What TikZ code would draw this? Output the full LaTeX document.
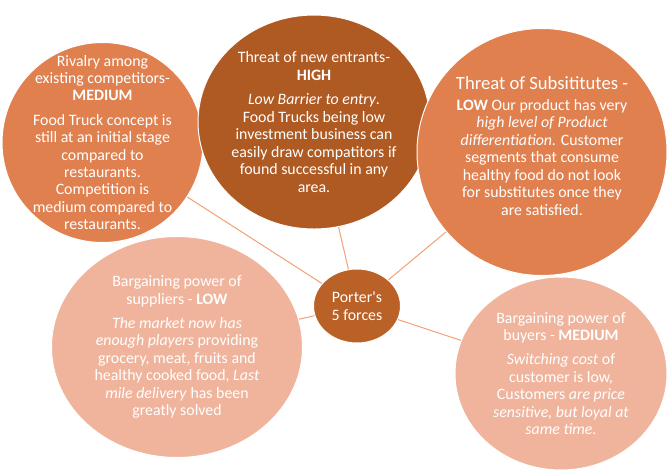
\documentclass[tikz,border=0pt]{standalone}
\usepackage{fontspec}
\setmainfont{Carlito}
\usetikzlibrary{shapes.geometric}
\definecolor{rivalorange}{RGB}{224,128,79}
\definecolor{entrantbrown}{RGB}{175,90,35}
\definecolor{powerpeach}{RGB}{240,180,157}
\definecolor{porterbrown}{RGB}{186,97,39}
\definecolor{linkorange}{RGB}{243,160,118}

\begin{document}
\begin{tikzpicture}[x=0.75pt,y=-0.75pt,thick,
    force/.style={ellipse,draw=white,line width=0.75pt,inner sep=0pt},
    txt/.style={text=white,align=center,inner sep=0pt,font=\fontsize{11.9}{13.1}\selectfont},
    link/.style={draw=linkorange,line width=0.75pt}]
    \useasboundingbox (0,0) rectangle (668,472);
    % the five forces
    \node [force, fill=rivalorange, minimum width=150.75pt, minimum height=150pt] (rival) at (102.5,142.5) {};
    \node [force, fill=entrantbrown, minimum width=174pt, minimum height=160.5pt] (entrants) at (314,122) {};
    \node [force, fill=rivalorange, minimum width=187.5pt, minimum height=185.25pt] (subst) at (542,152) {};
    \node [force, fill=powerpeach, minimum width=188.25pt, minimum height=165.75pt] (suppliers) at (177,347) {};
    \node [force, fill=powerpeach, minimum width=159pt, minimum height=144.75pt] (buyers) at (561,373.5) {};
    \node [force, fill=porterbrown, minimum width=65.25pt, minimum height=55.5pt] (porter) at (357,306) {};
    % texts
    \node [txt] (rivaltext) at (rival.center) {Rivalry among\\ existing competitors-\\ \textbf{MEDIUM}\\[5pt] Food Truck concept is\\ still at an initial stage\\ compared to\\ restaurants.\\ Competition is\\ medium compared to\\ restaurants.};
    \node [txt] (entrantstext) at (entrants.center) {Threat of new entrants-\\ \textbf{HIGH}\\[5.5pt] \textit{Low Barrier to entry}.\\ Food Trucks being low\\ investment business can\\ easily draw compatitors if\\ found successful in any\\ area.};
    \node [txt] (substtext) at ([yshift=4.5pt]subst.center) {{\fontsize{14}{15.5}\selectfont Threat of Subsititutes -}\\[2.6pt] \textbf{LOW} Our product has very\\ \textit{high level of Product}\\ \textit{differentiation.} Customer\\ segments that consume\\ healthy food do not look\\ for substitutes once they\\ are satisfied.};
    \node [txt] (supplierstext) at (suppliers.center) {Bargaining power of\\ suppliers - \textbf{LOW}\\[5pt] \textit{The market now has}\\ \textit{enough players} providing\\ grocery, meat, fruits and\\ healthy cooked food, \textit{Last}\\ \textit{mile delivery} has been\\ greatly solved};
    \node [txt] (buyerstext) at (buyers.center) {Bargaining power of\\ buyers - \textbf{MEDIUM}\\[5pt] \textit{Switching cost} of\\ customer is low,\\ Customers \textit{are price}\\ \textit{sensitive, but loyal at}\\ \textit{same time.}};
    \node [txt] (portertext) at (porter.center) {Porter\textquotesingle s\\ 5 forces};
    % connectors
    \path [link] (porter) edge (rival);
    \path [link] (porter) edge (entrants);
    \path [link] (porter) edge (subst);
    \path [link] (porter) edge (suppliers);
    \path [link] (porter) edge (buyers);
\end{tikzpicture}
\end{document}
